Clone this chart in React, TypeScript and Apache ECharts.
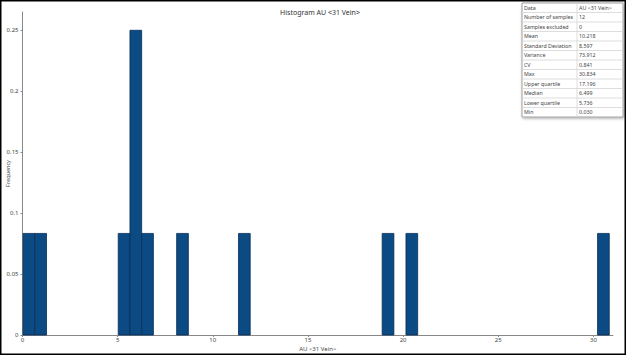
import React, { useEffect, useRef } from "react";
import * as echarts from "echarts";

// Histogram bins: start, end (AU <31 Vein>), frequency
const binStarts = [0.03, 0.646, 5.03, 5.646, 6.262, 8.1, 11.35, 18.9, 20.15, 30.218];
const binEnds = [0.646, 1.262, 5.646, 6.262, 6.878, 8.716, 11.966, 19.516, 20.766, 30.834];
const frequencies = [1 / 12, 1 / 12, 1 / 12, 3 / 12, 1 / 12, 1 / 12, 1 / 12, 1 / 12, 1 / 12, 1 / 12];

const statNames = [
  "Data",
  "Number of samples",
  "Samples excluded",
  "Mean",
  "Standard Deviation",
  "Variance",
  "CV",
  "Max",
  "Upper quartile",
  "Median",
  "Lower quartile",
  "Min",
];
const statValues = [
  "AU <31 Vein>",
  "12",
  "0",
  "10.218",
  "8.597",
  "73.912",
  "0.841",
  "30.834",
  "17.196",
  "6.499",
  "5.736",
  "0.030",
];

const FONT = "'Noto Sans', 'DejaVu Sans', sans-serif";

export default function App() {
  const ref = useRef<HTMLDivElement>(null);
  useEffect(() => {
    document.body.style.margin = "0";
    if (!ref.current) return;
    const chart = echarts.init(ref.current, undefined, { renderer: "svg" });

    const data = binStarts.map((s, i) => [s, binEnds[i], frequencies[i]]);

    const tx = 522;
    const ty = 3;
    const tw = 101;
    const rowH = 9.5;
    const colX = 577;
    const tableEls: any[] = [];
    tableEls.push({
      type: "rect",
      shape: { x: tx, y: ty, width: tw, height: rowH * statNames.length },
      style: { fill: "#fff", stroke: "#a0a0a0", lineWidth: 1, shadowBlur: 3, shadowColor: "rgba(0,0,0,0.35)", shadowOffsetX: 1, shadowOffsetY: 1 },
      z: 10,
    });
    statNames.forEach((n, i) => {
      const y = ty + i * rowH;
      if (i > 0) {
        tableEls.push({
          type: "line",
          shape: { x1: tx, y1: y, x2: tx + tw, y2: y },
          style: { stroke: "#d4d4d4", lineWidth: 0.8 },
          z: 11,
        });
      }
      tableEls.push({
        type: "text",
        x: tx + 2,
        y: y + rowH / 2,
        style: { text: n, fontSize: 5.3, fontFamily: FONT, fill: "#444", verticalAlign: "middle" },
        z: 12,
      });
      tableEls.push({
        type: "text",
        x: colX + 2,
        y: y + rowH / 2,
        style: { text: statValues[i], fontSize: 5.3, fontFamily: FONT, fill: "#444", verticalAlign: "middle" },
        z: 12,
      });
    });
    tableEls.push({
      type: "line",
      shape: { x1: colX, y1: ty, x2: colX, y2: ty + rowH * statNames.length },
      style: { stroke: "#d4d4d4", lineWidth: 0.8 },
      z: 11,
    });

    chart.setOption({
      animation: false,
      backgroundColor: "#fff",
      title: {
        text: "Histogram AU <31 Vein>",
        left: 315,
        textAlign: "center",
        top: 4,
        textStyle: { fontSize: 7, fontWeight: "normal", color: "#333", fontFamily: FONT },
      },
      grid: { left: 22.5, right: 13, top: 12, bottom: 20, containLabel: false, outerBoundsMode: "none" },
      xAxis: {
        type: "value",
        min: 0,
        max: 31.03,
        interval: 5,
        name: "AU <31 Vein>",
        nameLocation: "middle",
        nameGap: 10.5,
        nameMoveOverlap: false,
        nameTextStyle: { fontSize: 6, color: "#444", fontFamily: FONT },
        axisLine: { show: true, lineStyle: { color: "#888", width: 1 } },
        axisTick: { show: true, length: 2, lineStyle: { color: "#888" } },
        axisLabel: { fontSize: 6, color: "#444", margin: 2, fontFamily: FONT, showMaxLabel: false },
        splitLine: { show: false },
      },
      yAxis: {
        type: "value",
        min: 0,
        max: 0.265,
        interval: 0.05,
        name: "Frequency",
        nameLocation: "middle",
        nameGap: 12,
        nameMoveOverlap: false,
        nameTextStyle: { fontSize: 5.5, color: "#444", fontFamily: FONT },
        axisLine: { show: true, lineStyle: { color: "#888", width: 1 } },
        axisTick: { show: true, length: 2, lineStyle: { color: "#888" } },
        axisLabel: { fontSize: 6, color: "#444", margin: 4, fontFamily: FONT, showMaxLabel: false },
        splitLine: { show: false },
      },
      series: [
        {
          type: "custom",
          data,
          encode: { x: [0, 1], y: 2 },
          renderItem: (params: any, api: any) => {
            const p0 = api.coord([api.value(0), api.value(2)]);
            const p1 = api.coord([api.value(1), 0]);
            return {
              type: "rect",
              shape: { x: p0[0], y: p0[1], width: p1[0] - p0[0], height: p1[1] - p0[1] },
              style: { fill: "#0c4a83", stroke: "#082f57", lineWidth: 0.8 },
            };
          },
        },
      ],
      graphic: [
        ...tableEls,
        {
          type: "rect",
          shape: { x: 0.75, y: 0.75, width: 624.5, height: 353.5 },
          style: { fill: "none", stroke: "#000", lineWidth: 1.5 },
          z: 20,
        },
      ],
    });
    return () => chart.dispose();
  }, []);
  return <div ref={ref} style={{ width: 626, height: 355 }} />;
}
